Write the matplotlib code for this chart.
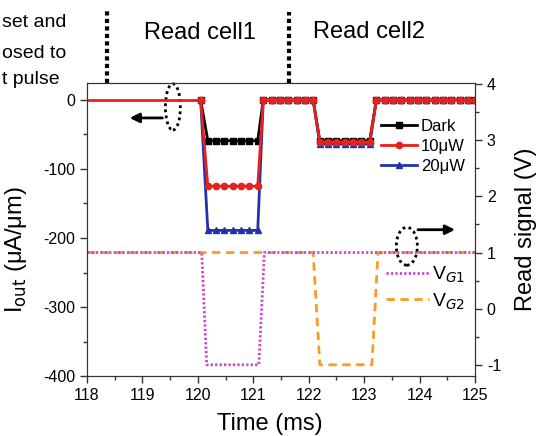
import matplotlib
matplotlib.use("Agg")
import matplotlib.pyplot as plt
from matplotlib.patches import Ellipse
from matplotlib.ticker import MultipleLocator
import matplotlib.transforms as mtransforms

plt.rcParams["font.family"] = ["Liberation Sans", "DejaVu Sans"]
plt.rcParams["axes.unicode_minus"] = False

# -------------------------------
# data
# -------------------------------
# sampled read current (with markers)
t_read = [120.05,
          120.18, 120.33, 120.48, 120.63, 120.78, 120.93, 121.08,
          121.18, 121.33, 121.48, 121.63, 121.78, 121.93, 122.08,
          122.20, 122.35, 122.50, 122.65, 122.80, 122.95, 123.10,
          123.22, 123.37, 123.52, 123.67, 123.82, 123.97, 124.12,
          124.27, 124.42, 124.57, 124.72, 124.87, 125.00]
i_dark = [0] + [-59] * 7 + [0] * 7 + [-59] * 7 + [0] * 13
i_10uw = [0] + [-125] * 7 + [0] * 7 + [-61] * 7 + [0] * 13
i_20uw = [0] + [-189] * 7 + [0] * 7 + [-64] * 7 + [0] * 13

# current before the read pulse (no markers)
t_pre = [118, 120.05]
i_pre = [0, 0]

# gate pulses (right axis)
t_vg1 = [118, 120.07, 120.16, 121.10, 121.20, 125]
v_vg1 = [1, 1, -1, -1, 1, 1]
t_vg2 = [118, 122.08, 122.20, 123.14, 123.25, 125]
v_vg2 = [1, 1, -1, -1, 1, 1]

fig = plt.figure(figsize=(5.45, 4.36), dpi=100)
ax = fig.add_axes([0.1596, 0.1376, 0.712, 0.672])
ax2 = ax.twinx()

# right axis: gate voltages
ax2.plot(t_vg2, v_vg2, color="#ff9922", lw=2, ls=(0, (3, 2)), label="V$_{G2}$")
ax2.plot(t_vg1, v_vg1, color="#cc44cc", lw=2, ls=(0, (0.8, 0.8)), label="V$_{G1}$")
ax2.set_ylim(-1.2, 4.02)
ax2.yaxis.set_major_locator(MultipleLocator(1))
ax2.yaxis.set_minor_locator(MultipleLocator(0.5))
ax2.set_ylabel("Read signal (V)", fontsize=17, labelpad=10)

# left axis: read current
ax.set_zorder(ax2.get_zorder() + 1)
ax.patch.set_visible(False)
ax.plot(t_pre, i_pre, color="#e8201e", lw=2)
ax.plot(t_read, i_dark, color="black", lw=2, marker="s", ms=4.5, label="Dark")
ax.plot(t_read, i_20uw, color="#2233aa", lw=2, marker="^", ms=4.5, label="20\u03bcW")
ax.plot(t_read, i_10uw, color="#e8201e", lw=2, marker="o", ms=4.5, label="10\u03bcW")

ax.set_xlim(118, 125)
ax.set_ylim(-400, 24.6)
ax.xaxis.set_major_locator(MultipleLocator(1))
ax.xaxis.set_minor_locator(MultipleLocator(0.5))
ax.yaxis.set_major_locator(MultipleLocator(100))
ax.yaxis.set_minor_locator(MultipleLocator(50))
ax.set_xlabel("Time (ms)", fontsize=17)
ax.xaxis.set_label_coords(0.47, -0.125)
ax.set_ylabel("I$_{\\mathrm{out}}$ (\u03bcA/\u03bcm)", fontsize=17)
ax.yaxis.set_label_coords(-0.15, 0.43)

for a in (ax, ax2):
    a.tick_params(which="major", length=5, width=1, labelsize=11.5, color="#333333")
    a.tick_params(which="minor", length=3, width=1, color="#333333")
    for s in a.spines.values():
        s.set_color("#333333")

# legends
h, l = ax.get_legend_handles_labels()
order = [0, 2, 1]
ax.legend([h[i] for i in order], [l[i] for i in order], loc="upper left",
          bbox_to_anchor=(0.74, 0.9), frameon=False, fontsize=12,
          handlelength=2.2, handletextpad=0.2, labelspacing=0.3, borderaxespad=0)
h2, l2 = ax2.get_legend_handles_labels()
ax2.legend(h2[::-1], l2[::-1], loc="upper left", bbox_to_anchor=(0.75, 0.405),
           frameon=False, fontsize=14, handlelength=2.2, handletextpad=0.2,
           labelspacing=0.3, borderaxespad=0)

# dotted ellipses and arrows
ax.add_patch(Ellipse((119.55, -10), 0.27, 67, fill=False, ls=(0, (1, 1.2)),
                     lw=2, ec="black", clip_on=False))
ax.annotate("", xy=(118.72, -26), xytext=(119.41, -26),
            arrowprops=dict(arrowstyle="-|>", lw=2, color="black", mutation_scale=14))
ax.add_patch(Ellipse((123.77, -212), 0.38, 55, fill=False, ls=(0, (1, 1.2)),
                     lw=2, ec="black", clip_on=False))
ax.annotate("", xy=(124.69, -188), xytext=(123.92, -188),
            arrowprops=dict(arrowstyle="-|>", lw=2, color="black", mutation_scale=14))

# vertical dotted separators above the axes
trans = mtransforms.blended_transform_factory(ax.transData, ax.transAxes)
ax.plot([118.36, 118.36], [1.0, 1.256], transform=trans, color="black",
        lw=3, ls=(0, (1, 0.8)), clip_on=False)
ax.plot([121.65, 121.65], [1.0, 1.242], transform=trans, color="black",
        lw=3, ls=(0, (1, 0.8)), clip_on=False)

fig.text(200 / 545, 1 - 33 / 436, "Read cell1", fontsize=17, ha="center", va="center")
fig.text(369 / 545, 1 - 32 / 436, "Read cell2", fontsize=17, ha="center", va="center")

# caption fragment at top left (cut off in the source figure)
fig.text(2 / 545, 1 - 27 / 436, "set and", fontsize=14, ha="left", va="baseline")
fig.text(2 / 545, 1 - 58 / 436, "osed to", fontsize=14, ha="left", va="baseline")
fig.text(2 / 545, 1 - 84 / 436, "t pulse", fontsize=14, ha="left", va="baseline")

fig.savefig("out.png", dpi=100)
